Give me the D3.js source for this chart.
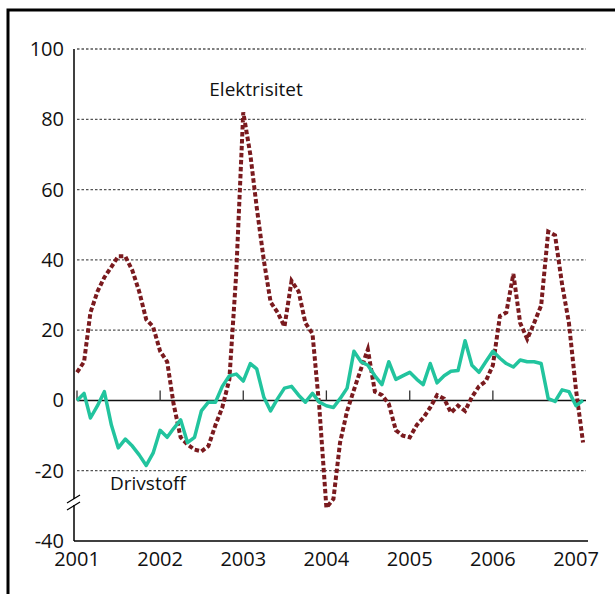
<!DOCTYPE html>
<html>
<head>
<meta charset="utf-8">
<script src="https://cdn.jsdelivr.net/npm/d3@7"></script>
<style>
  html, body { margin: 0; padding: 0; background: #fff; }
  text { font-family: "Open Sans", "Noto Sans", sans-serif; fill: #111; }
</style>
</head>
<body>
<svg id="chart" width="615" height="594"></svg>
<script>
/// Data: monthly values, Jan 2001 - Feb 2007
var startMonth = new Date(2001, 0, 1)
var endMonth = new Date(2007, 2, 1)   // exclusive
var years = [2001, 2002, 2003, 2004, 2005, 2006, 2007]
var yTicks = [-40, -20, 0, 20, 40, 60, 80, 100]
var gridValues = [-20, 20, 40, 60, 80, 100]
var seriesNames = ["Elektrisitet", "Drivstoff"]

var elektrisitet = [
  8, 11, 25, 31, 35, 38, 41, 41, 37, 31, 23, 21,          // 2001
  14, 11, -1, -10.5, -12.5, -14, -14.5, -13, -7, -2, 6, 36, // 2002
  82, 70, 55, 40, 28, 25, 21, 34, 31, 22, 19, -2,          // 2003
  -30.5, -28, -12, -3, 3, 9, 14.5, 2.5, 1.5, -1, -8.5, -10, // 2004
  -10.5, -7, -5, -2, 1.5, 0.5, -3.5, -1.5, -3, 1, 4, 5.5,  // 2005
  10, 24, 25, 36, 22, 17.5, 22, 27, 48, 47, 33, 22,        // 2006
  3, -12                                                   // 2007
]
var drivstoff = [
  0, 2, -5, -1.5, 2.5, -7, -13.5, -11, -13, -15.5, -18.5, -15,
  -8.5, -10.5, -8, -5.5, -12, -10.5, -3, -0.5, -0.5, 4, 7, 7.5,
  5.5, 10.5, 9, 1, -3, 0.5, 3.5, 4, 1.5, -0.5, 2, -0.5,
  -1.5, -2, 0.5, 3.5, 14, 11, 10, 7, 4.5, 11, 6, 7,
  8, 6, 4.5, 10.5, 5, 7, 8.3, 8.5, 17, 10, 8, 11,
  14, 12, 10.5, 9.5, 11.5, 11, 11, 10.5, 0.5, -0.3, 3, 2.5,
  -1.5, 0
]

var months = d3.timeMonth.range(startMonth, endMonth)

var svg = d3.select("#chart")

/// Outer frame
svg.append("rect")
  .attr("x", 8).attr("y", 10)
  .attr("width", 700).attr("height", 700)
  .attr("fill", "none").attr("stroke", "#000").attr("stroke-width", 3)

/// Scales
var x = d3.scaleTime()
  .domain([new Date(2001, 0, 1), new Date(2007, 0, 1)])
  .range([77, 576])
var y = d3.scaleLinear()
  .domain([-40, 100])
  .range([541, 49])

var left = 74, right = 586

/// Dotted grid lines
svg.append("g").selectAll("line")
  .data(gridValues)
  .enter().append("line")
  .attr("x1", 77).attr("x2", right)
  .attr("y1", d => y(d)).attr("y2", d => y(d))
  .attr("stroke", "#555")
  .attr("stroke-width", 1.3)
  .attr("stroke-dasharray", "2.5,2")

/// Zero line with year ticks
svg.append("line")
  .attr("x1", 77).attr("x2", right)
  .attr("y1", y(0)).attr("y2", y(0))
  .attr("stroke", "#111").attr("stroke-width", 1.6)
svg.append("g").selectAll("line")
  .data(years.slice(0, 6))
  .enter().append("line")
  .attr("x1", d => x(new Date(d, 0, 1))).attr("x2", d => x(new Date(d, 0, 1)))
  .attr("y1", y(0)).attr("y2", y(0) - 10)
  .attr("stroke", "#333").attr("stroke-width", 1.3)

/// Axes lines
svg.append("line")
  .attr("x1", left).attr("x2", left)
  .attr("y1", y(100)).attr("y2", y(-40))
  .attr("stroke", "#000").attr("stroke-width", 1.5)
svg.append("line")
  .attr("x1", left).attr("x2", right + 2)
  .attr("y1", y(-40)).attr("y2", y(-40))
  .attr("stroke", "#000").attr("stroke-width", 1.5)

/// Axis break marks
var brk = svg.append("g")
brk.append("rect").attr("x", left - 3).attr("y", 499).attr("width", 6).attr("height", 6).attr("fill", "#fff")
brk.append("line").attr("x1", 67).attr("y1", 503).attr("x2", 80).attr("y2", 495)
  .attr("stroke", "#000").attr("stroke-width", 1.2)
brk.append("line").attr("x1", 67).attr("y1", 510).attr("x2", 80).attr("y2", 502)
  .attr("stroke", "#000").attr("stroke-width", 1.2)

/// Y labels
svg.append("g").selectAll("text")
  .data(yTicks)
  .enter().append("text")
  .attr("x", 64)
  .attr("y", d => y(d) + 7)
  .attr("text-anchor", "end")
  .attr("font-size", 20)
  .text(d => d)

/// X labels
svg.append("g").selectAll("text")
  .data(years)
  .enter().append("text")
  .attr("x", d => x(new Date(d, 0, 1)))
  .attr("y", 566)
  .attr("text-anchor", "middle")
  .attr("font-size", 20)
  .text(d => d)

/// Lines
var line = d3.line()
  .x((d, i) => x(months[i]))
  .y(d => y(d))

svg.append("path")
  .datum(elektrisitet)
  .attr("d", line)
  .attr("fill", "none")
  .attr("stroke", "#7a1a1e")
  .attr("stroke-width", 4)
  .attr("stroke-dasharray", "4.5,2.5")

svg.append("path")
  .datum(drivstoff)
  .attr("d", line)
  .attr("fill", "none")
  .attr("stroke", "#22c49e")
  .attr("stroke-width", 3.5)
  .attr("stroke-linejoin", "round")

/// Series labels
svg.append("text")
  .attr("x", 256).attr("y", 96)
  .attr("text-anchor", "middle")
  .attr("font-size", 19)
  .text(seriesNames[0])
svg.append("text")
  .attr("x", 110).attr("y", 490)
  .attr("font-size", 19)
  .text(seriesNames[1])
</script>
</body>
</html>
